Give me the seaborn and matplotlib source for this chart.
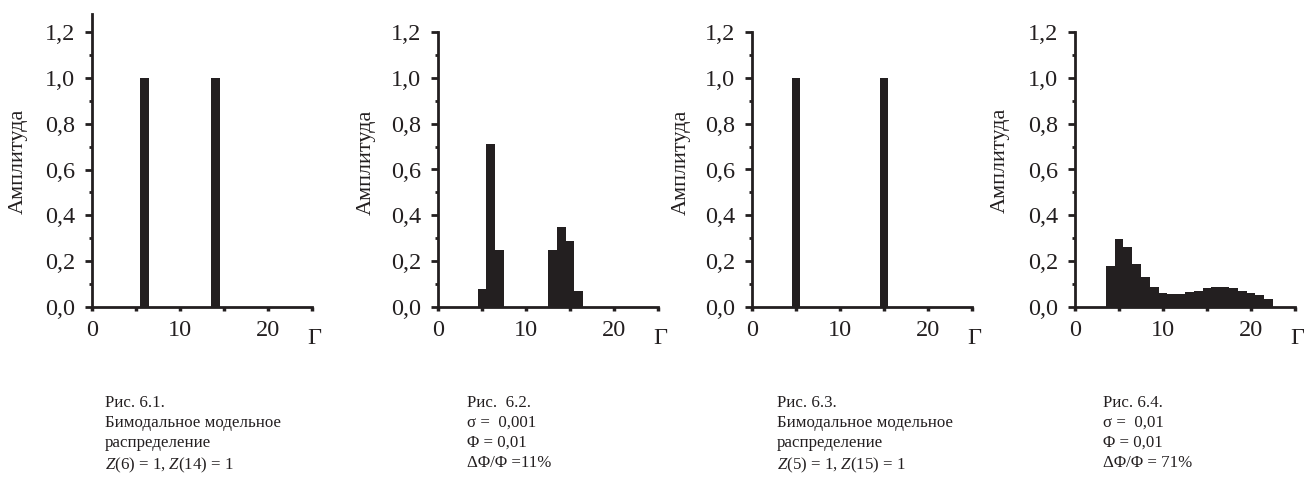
import numpy as np
import pandas as pd
import matplotlib
matplotlib.use("Agg")
import matplotlib.pyplot as plt
import seaborn as sns
from matplotlib.ticker import FixedLocator, FuncFormatter

# ---------------- data ----------------
gamma_grid = [1, 2, 3, 4, 5, 6, 7, 8, 9, 10, 11, 12, 13, 14, 15, 16, 17, 18, 19, 20, 21, 22, 23, 24]

gamma_1 = [6, 14]
amp_1 = [1.0, 1.0]

gamma_2 = [5, 6, 7, 13, 14, 15, 16]
amp_2 = [0.08, 0.71, 0.25, 0.25, 0.35, 0.29, 0.07]

gamma_3 = [5, 15]
amp_3 = [1.0, 1.0]

gamma_4 = [4, 5, 6, 7, 8, 9, 10, 11, 12, 13, 14, 15, 16, 17, 18, 19, 20, 21, 22]
amp_4 = [0.178, 0.296, 0.26, 0.188, 0.133, 0.089, 0.059, 0.055, 0.055, 0.064,
         0.071, 0.081, 0.089, 0.089, 0.081, 0.071, 0.059, 0.052, 0.033]

y_ticks = [0.0, 0.2, 0.4, 0.6, 0.8, 1.0, 1.2]
y_minor = [0.1, 0.3, 0.5, 0.7, 0.9, 1.1]
x_ticks = [0, 10, 20]
x_minor = [5, 15, 25]

y_label = "Амплитуда"
x_label = "Г"

captions = [
    "Рис. 6.1.\nБимодальное модельное\nраспределение\n$Z$(6) = 1, $Z$(14) = 1",
    "Рис.  6.2.\nσ =  0,001\nΦ = 0,01\nΔΦ/Φ =11%",
    "Рис. 6.3.\nБимодальное модельное\nраспределение\n$Z$(5) = 1, $Z$(15) = 1",
    "Рис. 6.4.\nσ =  0,01\nΦ = 0,01\nΔΦ/Φ = 71%",
]

# ---------------- style ----------------
sns.set_style("ticks")
plt.rcParams["font.family"] = ["Liberation Serif", "DejaVu Serif"]
plt.rcParams["mathtext.fontset"] = "custom"
plt.rcParams["mathtext.rm"] = "Liberation Serif"
plt.rcParams["mathtext.it"] = "Liberation Serif:italic"
plt.rcParams["axes.unicode_minus"] = False

bar_color = "#231f20"
W, H = 1304, 491
fig = plt.figure(figsize=(W / 100, H / 100), dpi=100)

panels = [
    (gamma_1, amp_1, 92, 1.28),
    (gamma_2, amp_2, 438, 1.2),
    (gamma_3, amp_3, 752, 1.2),
    (gamma_4, amp_4, 1075, 1.2),
]
ylabel_pos = [(18, 161), (366, 162), (681, 162), (1000, 160)]
caption_x = [105, 467, 777, 1103]

px_per_unit_y = 275 / 1.2
y0_px = 307
ax_w = 220

comma = FuncFormatter(lambda v, p: f"{v:.1f}".replace(".", ","))

for i, (g, a, left_px, ytop) in enumerate(panels):
    h_px = ytop * px_per_unit_y
    ax = fig.add_axes([left_px / W, (H - y0_px) / H, ax_w / W, h_px / H])
    ser = pd.Series(a, index=g).reindex(gamma_grid, fill_value=0.0)
    df = pd.DataFrame({"gamma": gamma_grid, "amp": ser.values})
    sns.barplot(data=df, x="gamma", y="amp", native_scale=True, width=1.0,
                color=bar_color, saturation=1, linewidth=0, errorbar=None, ax=ax)
    ax.set_xlim(0, 25)
    ax.set_ylim(0, ytop)
    ax.set_xlabel("")
    ax.set_ylabel("")
    sns.despine(ax=ax)
    for s in ("left", "bottom"):
        ax.spines[s].set_linewidth(2.0)
        ax.spines[s].set_color(bar_color)
    ax.yaxis.set_major_locator(FixedLocator(y_ticks))
    ax.yaxis.set_minor_locator(FixedLocator(y_minor))
    ax.yaxis.set_major_formatter(comma)
    ax.xaxis.set_major_locator(FixedLocator(x_ticks))
    ax.xaxis.set_minor_locator(FixedLocator(x_minor))
    ax.tick_params(axis="y", which="major", length=5, width=2, pad=7,
                   labelsize=17.5, color=bar_color, labelcolor=bar_color)
    ax.tick_params(axis="y", which="minor", length=2.5, width=2, color=bar_color)
    ax.tick_params(axis="x", which="major", length=3, width=2.5, pad=6,
                   labelsize=17.5, color=bar_color, labelcolor=bar_color)
    ax.tick_params(axis="x", which="minor", length=3, width=2.5, color=bar_color)
    ax.set_facecolor("white")
    # Г label
    ax.annotate(x_label, xy=(25, 0), xycoords="data", xytext=(2, -32),
                textcoords="offset pixels", ha="center", va="center",
                fontsize=17.5, color=bar_color, annotation_clip=False)
    # y label
    lx, ly = ylabel_pos[i]
    fig.text(lx / W, 1 - ly / H, y_label, rotation=90, ha="center", va="center",
             fontsize=16, color=bar_color)
    # caption
    fig.text(caption_x[i] / W, 1 - 395 / H, captions[i], ha="left", va="top",
             fontsize=12.2, linespacing=1.33, color=bar_color)

fig.savefig("out.png", dpi=100, facecolor="white")
